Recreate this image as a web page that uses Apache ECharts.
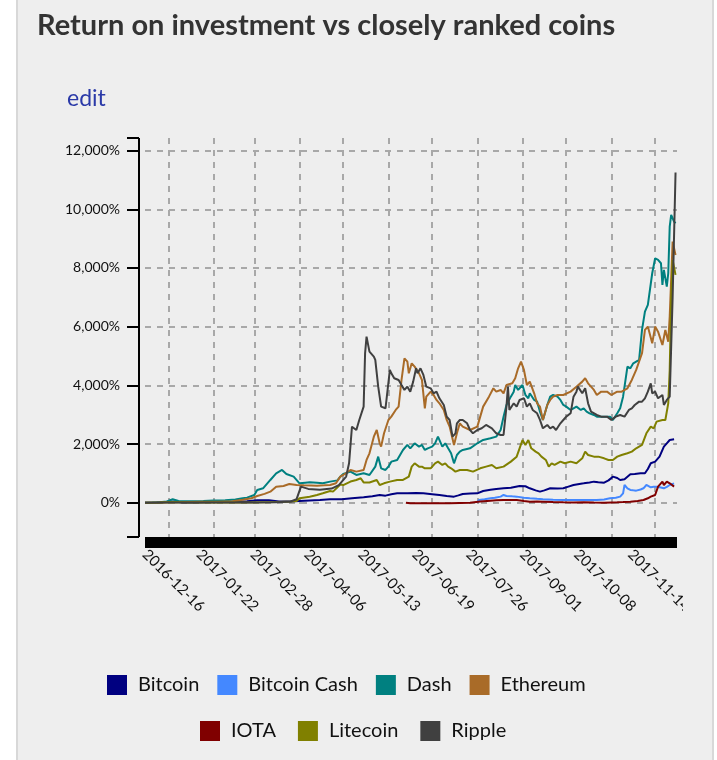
<!DOCTYPE html>
<html><head><meta charset="utf-8">
<script src="https://cdn.jsdelivr.net/npm/echarts@6/dist/echarts.min.js"></script>
<style>
html,body{margin:0;padding:0;background:#fff;width:717px;height:760px;overflow:hidden}
#panel{position:absolute;left:16px;top:0;width:694px;height:760px;background:#eeeeee;border-left:2px solid #d8d8d8;border-right:2px solid #d8d8d8}
#chart{position:absolute;left:0;top:0;width:683px;height:760px}
</style></head><body>
<div id="panel"></div><div id="chart"></div>
<script>
const titleText = 'Return on investment vs closely ranked coins';
const linkText = 'edit';
const startDate = '2016-12-16';
const spanDays = 365;
const labelStepDays = 37;
const yTicks = [0, 2000, 4000, 6000, 8000, 10000, 12000];
const yMin = -1170, yMax = 12430;
const seriesNames = ['Bitcoin', 'Bitcoin Cash', 'Dash', 'Ethereum', 'IOTA', 'Litecoin', 'Ripple'];
const seriesColors = ['#000080', '#4488ff', '#008080', '#a96b28', '#800000', '#808000', '#404040'];

// [days since startDate, return %]
const bitcoin = [[0,0],[8,10],[17,35],[20,40],[26,5],[33,10],[40,12],[47,20],[55,25],[62,30],[70,45],[77,85],[85,80],[92,40],[99,40],[106,60],[113,75],[120,90],[127,115],[135,120],[142,150],[150,183],[156,220],[161,263],[165,240],[169,290],[173,319],[180,319],[186,330],[191,319],[197,290],[202,263],[207,230],[212,206],[215,250],[218,297],[223,310],[228,319],[232,399],[237,440],[241,467],[246,490],[251,512],[257,569],[261,560],[264,490],[268,420],[271,376],[274,420],[278,490],[283,480],[287,490],[290,540],[294,603],[298,640],[301,660],[305,690],[308,717],[311,700],[315,683],[318,760],[321,887],[324,840],[326,774],[329,800],[333,967],[336,980],[340,1001],[343,1001],[345,1150],[347,1342],[350,1399],[353,1569],[356,1910],[358,2024],[360,2137],[363,2160]];
const bitcoinCash = [[228,0],[229,92],[233,120],[237,149],[240,170],[244,206],[246,262],[248,228],[252,215],[255,206],[260,170],[264,149],[269,130],[273,115],[280,100],[287,92],[294,95],[301,92],[306,90],[310,92],[315,110],[319,149],[323,170],[326,206],[328,319],[329,603],[331,490],[333,433],[335,420],[337,410],[340,450],[342,490],[344,603],[347,524],[349,540],[351,546],[354,520],[356,490],[358,540],[360,603],[363,660]];
const dash = [[0,0],[5,5],[10,15],[15,40],[19,115],[23,60],[30,50],[40,60],[47,70],[55,80],[62,110],[67,150],[70,172],[75,262],[77,433],[81,490],[86,774],[90,1001],[94,1115],[97,978],[102,887],[106,660],[110,680],[113,694],[118,680],[122,660],[127,717],[132,760],[134,887],[136,978],[141,1058],[145,944],[150,1001],[154,944],[158,1228],[160,1569],[162,1171],[165,1115],[167,1228],[169,1399],[173,1456],[175,1626],[177,1796],[180,1967],[182,1853],[185,2024],[188,1910],[190,1967],[192,1796],[194,1853],[197,1910],[199,2024],[201,2251],[204,1910],[206,2024],[208,1853],[210,1683],[212,1342],[214,1626],[216,1740],[218,1796],[223,1853],[228,2024],[232,2137],[237,2194],[241,2251],[244,2478],[246,2933],[248,3330],[251,3614],[253,3785],[254,4012],[256,3842],[259,4012],[261,3671],[263,3558],[264,3728],[267,3501],[269,3444],[271,3103],[273,2819],[276,3330],[278,3614],[280,3671],[283,3614],[285,3501],[287,3330],[289,3274],[292,3160],[294,3217],[296,3274],[299,3160],[301,3217],[303,3103],[305,3046],[308,2989],[310,2933],[315,2933],[319,2933],[321,2819],[324,3046],[326,3217],[328,3614],[331,4637],[333,4580],[335,4751],[337,4808],[339,4865],[341,5888],[343,6513],[345,6740],[348,7820],[350,8331],[352,8274],[354,8161],[355,7422],[356,7933],[358,7365],[359,7820],[360,9410],[361,9808],[363,9581],[364,9524]];
const ethereum = [[0,0],[10,5],[20,15],[30,25],[40,30],[50,35],[60,50],[67,100],[73,150],[77,228],[82,300],[86,376],[90,546],[91,490],[95,569],[99,637],[104,603],[109,592],[114,585],[118,580],[123,590],[127,603],[131,660],[134,887],[136,944],[141,1115],[145,1058],[150,1115],[152,1456],[154,1683],[157,2251],[159,2478],[161,2024],[162,1910],[164,2365],[167,2819],[169,2933],[172,3160],[174,3274],[176,4183],[178,4921],[180,4808],[181,4410],[183,4751],[185,4637],[188,4410],[190,4183],[192,3217],[193,3614],[196,3785],[198,3671],[200,3501],[202,3387],[205,3160],[207,2819],[209,2592],[212,1967],[214,2365],[216,2705],[218,2592],[223,2478],[228,2592],[232,3274],[236,3614],[239,3898],[241,3785],[244,3842],[246,3728],[248,4012],[252,4069],[254,4240],[256,4580],[258,4808],[260,4524],[262,4012],[264,4126],[267,3728],[269,3387],[271,3274],[273,2819],[276,3330],[278,3501],[280,3614],[283,3671],[287,3671],[292,3785],[296,3955],[300,4126],[302,4240],[304,4069],[308,3842],[310,3671],[313,3785],[317,3785],[320,3671],[324,3785],[327,3785],[331,3898],[334,4183],[337,4524],[341,5092],[343,5887],[345,6001],[348,5433],[350,6001],[352,5830],[355,5376],[357,5887],[359,5489],[360,6342],[362,8899],[364,8445]];
const iota = [[179,0],[182,-22],[188,-20],[195,-22],[202,-20],[209,-22],[216,-10],[223,1],[230,40],[237,69],[241,80],[246,92],[251,95],[255,92],[260,60],[264,35],[269,40],[273,35],[280,20],[287,12],[294,10],[301,12],[308,5],[315,1],[320,8],[324,12],[328,20],[333,35],[338,60],[342,92],[345,150],[347,206],[350,262],[352,546],[355,717],[356,603],[358,717],[360,660],[363,546]];
const litecoin = [[0,0],[10,5],[20,20],[30,10],[40,8],[50,5],[60,8],[70,10],[80,15],[90,20],[100,40],[104,60],[106,149],[113,205],[118,262],[122,319],[127,400],[129,376],[134,620],[136,600],[141,720],[145,774],[148,831],[150,690],[154,690],[159,774],[161,603],[164,660],[168,717],[173,774],[177,774],[181,887],[183,1228],[185,1342],[188,1228],[190,1228],[192,1171],[196,1171],[199,1342],[201,1399],[204,1285],[206,1342],[208,1228],[210,1171],[213,1058],[216,1115],[221,1115],[225,1058],[230,1171],[234,1228],[238,1285],[241,1171],[246,1228],[251,1399],[255,1569],[257,1853],[259,2137],[261,1967],[263,2137],[265,1853],[268,1740],[270,1683],[272,1569],[275,1456],[277,1228],[279,1342],[281,1285],[285,1399],[288,1342],[292,1399],[296,1342],[300,1512],[302,1740],[304,1626],[308,1569],[311,1569],[315,1512],[318,1456],[321,1456],[324,1569],[327,1626],[331,1683],[334,1740],[337,1853],[341,1967],[344,2365],[347,2592],[349,2535],[351,2762],[355,2819],[357,2819],[359,3387],[360,4524],[361,6911],[362,8274],[364,7763]];
const ripple = [[0,0],[15,3],[30,5],[45,3],[60,5],[75,8],[90,15],[100,40],[104,120],[107,546],[112,470],[120,440],[128,480],[133,600],[138,890],[140,1342],[142,2590],[145,2478],[147,2819],[150,3274],[151,5090],[152,5660],[154,5148],[155,5092],[157,4978],[158,4864],[159,4808],[160,3955],[162,3274],[165,3217],[166,3160],[168,4524],[169,4410],[171,4240],[174,4183],[176,4012],[178,3842],[180,3955],[182,3785],[184,4126],[186,4580],[187,4410],[189,4580],[191,4353],[193,3955],[196,3898],[198,3728],[200,3785],[202,3558],[205,3330],[207,2933],[209,2819],[211,2251],[213,2365],[214,2705],[216,2819],[218,2819],[221,2705],[223,2478],[225,2365],[228,2478],[231,2535],[234,2649],[238,2535],[241,2365],[244,2308],[246,2308],[248,3274],[249,3955],[250,3160],[253,3387],[255,3274],[257,3501],[260,3558],[262,3274],[264,3387],[266,3160],[269,3046],[271,2819],[273,2535],[276,2649],[278,2535],[280,2592],[282,2478],[285,2705],[287,2819],[289,2933],[292,3046],[294,3614],[296,3785],[297,3955],[300,3728],[302,3898],[304,3387],[306,3103],[310,2989],[313,2933],[317,2933],[320,2819],[323,2933],[326,2989],[329,2933],[332,3160],[334,3217],[336,3330],[339,3444],[341,3444],[343,3558],[345,3785],[347,4069],[348,3728],[350,3785],[352,3558],[355,3671],[356,3330],[358,3501],[360,3614],[362,7000],[364,11251]];

const seriesData = [bitcoin, bitcoinCash, dash, ethereum, iota, litecoin, ripple];

const DAY = 86400000;
const [sy, sm, sd] = startDate.split('-').map(Number);
const startMs = new Date(sy, sm - 1, sd).getTime();
const endMs = new Date(sy, sm - 1, sd + spanDays).getTime();
const toMs = d => new Date(sy, sm - 1, sd + d).getTime();
const pad = n => (n < 10 ? '0' : '') + n;
const fmtDate = v => {
  const k = Math.round((v - startMs) / DAY);
  const dt = new Date(sy, sm - 1, sd + k);
  return dt.getFullYear() + '-' + pad(dt.getMonth() + 1) + '-' + pad(dt.getDate());
};
const fmtPct = v => String(v).replace(/\B(?=(\d{3})+(?!\d))/g, ',') + '%';

const FONT = 'Lato';
const chart = echarts.init(document.getElementById('chart'), null, {renderer: 'canvas'});
chart.setOption({
  animation: false,
  backgroundColor: 'transparent',
  color: seriesColors,
  textStyle: {fontFamily: FONT},
  title: [
    {text: titleText, left: 37, top: 11, padding: 0, textStyle: {fontFamily: FONT, fontSize: 29, fontWeight: 'bold', color: '#333'}},
    {text: linkText, left: 67, top: 87, padding: 0, textStyle: {fontFamily: FONT, fontSize: 23, fontWeight: 'normal', color: '#2b3aa8'}}
  ],
  legend: [
    {data: seriesNames.slice(0, 4), left: 107, top: 675, padding: 0, icon: 'rect', itemWidth: 20, itemHeight: 20, itemGap: 18,
     textStyle: {fontFamily: FONT, fontSize: 20, color: '#111', padding: [2, 0, 0, 6]}},
    {data: seriesNames.slice(4), left: 200, top: 721, padding: 0, icon: 'rect', itemWidth: 20, itemHeight: 20, itemGap: 22,
     textStyle: {fontFamily: FONT, fontSize: 20, color: '#111', padding: [2, 0, 0, 6]}}
  ],
  grid: {left: 145, right: 6, top: 138, bottom: 223, containLabel: false, outerBoundsMode: 'none'},
  xAxis: [
    {type: 'time', min: startMs, max: endMs, splitNumber: 12, minInterval: 28 * DAY, maxInterval: 31 * DAY,
     position: 'bottom', offset: 5.5,
     axisLine: {show: true, onZero: false, lineStyle: {color: '#000', width: 11, cap: 'butt'}},
     axisTick: {show: false}, axisLabel: {show: false},
     splitLine: {show: true, showMinLine: false, showMaxLine: false, lineStyle: {color: '#a8a8a8', width: 2, type: [6, 6]}}},
    {type: 'value', min: startMs, max: endMs, interval: labelStepDays * DAY, position: 'bottom', offset: 0,
     axisLine: {show: false, onZero: false}, axisTick: {show: false}, splitLine: {show: false},
     axisLabel: {show: true, rotate: -45, margin: 15, fontFamily: FONT, fontSize: 15, color: '#111',
       showMaxLabel: false, showMinLabel: true, formatter: fmtDate}}
  ],
  yAxis: [
    {type: 'value', min: yMin, max: yMax, position: 'left', offset: 6,
     axisLine: {show: true, onZero: false, lineStyle: {color: '#000', width: 2, cap: 'butt'}},
     axisTick: {show: true, length: 12, customValues: yTicks, lineStyle: {color: '#000', width: 2}},
     axisLabel: {show: true, customValues: yTicks, margin: 19, fontFamily: FONT, fontSize: 14, color: '#111', formatter: fmtPct},
     splitLine: {show: true, lineStyle: {color: '#a8a8a8', width: 2, type: [6, 6]}}},
    {type: 'value', min: yMin, max: yMax, position: 'left', offset: 6,
     axisLine: {show: false}, axisLabel: {show: false}, splitLine: {show: false},
     axisTick: {show: true, length: 12, customValues: [yMin, yMax], lineStyle: {color: '#000', width: 2}}}
  ],
  series: seriesNames.map((name, i) => ({
    name, type: 'line', xAxisIndex: 0, yAxisIndex: 0, showSymbol: false, symbol: 'none',
    lineStyle: {width: 2, color: seriesColors[i]}, itemStyle: {color: seriesColors[i]},
    data: seriesData[i].map(p => [toMs(p[0]), p[1]])
  }))
});
</script>
</body></html>
